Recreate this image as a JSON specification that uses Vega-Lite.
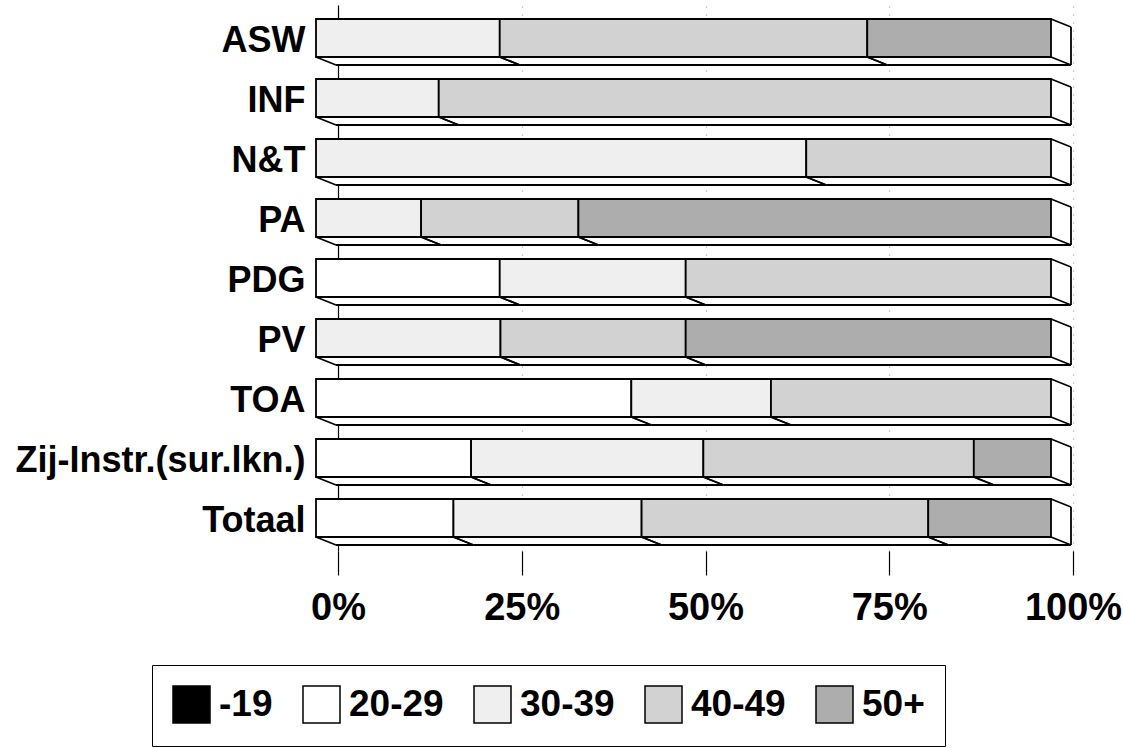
{
  "$schema": "https://vega.github.io/schema/vega-lite/v6.json",
  "width": 735,
  "height": 546,
  "autosize": {"type": "none"},
  "padding": {"left": 316, "top": 5, "right": 72, "bottom": 197},
  "background": "white",
  "config": {"view": {"stroke": null}, "font": "Liberation Sans"},
  "data": {
    "values": [
      {"dept": "ASW", "age": "30-39", "value": 25.0},
      {"dept": "ASW", "age": "40-49", "value": 50.0},
      {"dept": "ASW", "age": "50+", "value": 25.0},
      {"dept": "INF", "age": "30-39", "value": 16.7},
      {"dept": "INF", "age": "40-49", "value": 83.3},
      {"dept": "N&T", "age": "30-39", "value": 66.7},
      {"dept": "N&T", "age": "40-49", "value": 33.3},
      {"dept": "PA", "age": "30-39", "value": 14.3},
      {"dept": "PA", "age": "40-49", "value": 21.4},
      {"dept": "PA", "age": "50+", "value": 64.3},
      {"dept": "PDG", "age": "20-29", "value": 25.0},
      {"dept": "PDG", "age": "30-39", "value": 25.3},
      {"dept": "PDG", "age": "40-49", "value": 49.7},
      {"dept": "PV", "age": "30-39", "value": 25.1},
      {"dept": "PV", "age": "40-49", "value": 25.2},
      {"dept": "PV", "age": "50+", "value": 49.7},
      {"dept": "TOA", "age": "20-29", "value": 42.9},
      {"dept": "TOA", "age": "30-39", "value": 19.0},
      {"dept": "TOA", "age": "40-49", "value": 38.1},
      {"dept": "Zij-Instr.(sur.lkn.)", "age": "20-29", "value": 21.1},
      {"dept": "Zij-Instr.(sur.lkn.)", "age": "30-39", "value": 31.6},
      {"dept": "Zij-Instr.(sur.lkn.)", "age": "40-49", "value": 36.8},
      {"dept": "Zij-Instr.(sur.lkn.)", "age": "50+", "value": 10.5},
      {"dept": "Totaal", "age": "20-29", "value": 18.7},
      {"dept": "Totaal", "age": "30-39", "value": 25.6},
      {"dept": "Totaal", "age": "40-49", "value": 39.0},
      {"dept": "Totaal", "age": "50+", "value": 16.7}
    ]
  },
  "transform": [
    {"stack": "value", "groupby": ["dept"], "sort": [{"field": "age", "order": "ascending"}], "as": ["x0", "x1"], "offset": "normalize"}
  ],
  "encoding": {
    "y": {
      "field": "dept", "type": "nominal",
      "sort": ["ASW", "INF", "N&T", "PA", "PDG", "PV", "TOA", "Zij-Instr.(sur.lkn.)", "Totaal"],
      "scale": {"paddingInner": 0.36667, "paddingOuter": 0.23333},
      "axis": {
        "title": null, "domain": false, "ticks": false,
        "labelFont": "Liberation Sans", "labelFontWeight": "bold", "labelFontSize": 36,
        "labelColor": "black", "labelPadding": 11, "labelOffset": 3, "labelLimit": 400
      }
    }
  },
  "layer": [
    {
      "mark": {"type": "bar", "fill": "white", "strokeWidth": 0, "xOffset": 20, "x2Offset": 20, "yOffset": 8, "y2Offset": 8},
      "encoding": {
        "x": {
          "field": "x0", "type": "quantitative", "stack": null,
          "scale": {"domain": [0, 1], "nice": false, "zero": false},
          "axis": {
            "title": null, "values": [0, 0.25, 0.5, 0.75, 1], "format": ".0%",
            "domain": false, "tickOffset": 22, "tickSize": 24, "tickColor": "black", "tickWidth": 1.2,
            "grid": true,
            "gridColor": {"condition": {"test": "datum.value === 0", "value": "black"}, "value": "#999999"},
            "gridDash": {"condition": {"test": "datum.value === 0", "value": []}, "value": [1, 7]},
            "gridWidth": 1.2,
            "labelFont": "Liberation Sans", "labelFontWeight": "bold", "labelFontSize": 38,
            "labelColor": "black", "labelPadding": 14, "labelFlush": false
          }
        },
        "x2": {"field": "x1"}
      }
    },
    {
      "mark": {"type": "rule", "color": "black", "strokeWidth": 1.8, "xOffset": 20, "x2Offset": 20, "yOffset": 8, "y2Offset": 8},
      "encoding": {
        "x": {"field": "x0", "type": "quantitative", "stack": null},
        "x2": {"field": "x1"},
        "y": {"field": "dept", "type": "nominal", "sort": ["ASW", "INF", "N&T", "PA", "PDG", "PV", "TOA", "Zij-Instr.(sur.lkn.)", "Totaal"], "bandPosition": 1}
      }
    },
    {
      "transform": [{"filter": "datum.x1 > 0.999"}],
      "mark": {"type": "rule", "color": "black", "strokeWidth": 1.8, "xOffset": 20, "yOffset": 8, "y2Offset": 8},
      "encoding": {
        "x": {"field": "x1", "type": "quantitative", "stack": null},
        "y": {"field": "dept", "type": "nominal", "sort": ["ASW", "INF", "N&T", "PA", "PDG", "PV", "TOA", "Zij-Instr.(sur.lkn.)", "Totaal"], "bandPosition": 0},
        "y2": {"field": "dept", "bandPosition": 1}
      }
    },
    {
      "mark": {"type": "rule", "color": "black", "strokeWidth": 1.8, "x2Offset": 20, "y2Offset": 8},
      "encoding": {
        "x": {"field": "x0", "type": "quantitative", "stack": null},
        "x2": {"field": "x0"},
        "y": {"field": "dept", "type": "nominal", "sort": ["ASW", "INF", "N&T", "PA", "PDG", "PV", "TOA", "Zij-Instr.(sur.lkn.)", "Totaal"], "bandPosition": 1},
        "y2": {"field": "dept", "bandPosition": 1}
      }
    },
    {
      "mark": {"type": "rule", "color": "black", "strokeWidth": 1.8, "x2Offset": 20, "y2Offset": 8},
      "encoding": {
        "x": {"field": "x1", "type": "quantitative", "stack": null},
        "x2": {"field": "x1"},
        "y": {"field": "dept", "type": "nominal", "sort": ["ASW", "INF", "N&T", "PA", "PDG", "PV", "TOA", "Zij-Instr.(sur.lkn.)", "Totaal"], "bandPosition": 1},
        "y2": {"field": "dept", "bandPosition": 1}
      }
    },
    {
      "transform": [{"filter": "datum.x1 > 0.999"}],
      "mark": {"type": "rule", "color": "black", "strokeWidth": 1.8, "x2Offset": 20, "y2Offset": 8},
      "encoding": {
        "x": {"field": "x1", "type": "quantitative", "stack": null},
        "x2": {"field": "x1"},
        "y": {"field": "dept", "type": "nominal", "sort": ["ASW", "INF", "N&T", "PA", "PDG", "PV", "TOA", "Zij-Instr.(sur.lkn.)", "Totaal"], "bandPosition": 0},
        "y2": {"field": "dept", "bandPosition": 0}
      }
    },
    {
      "mark": {"type": "bar", "stroke": "black", "strokeWidth": 1.8},
      "encoding": {
        "x": {"field": "x0", "type": "quantitative", "stack": null},
        "x2": {"field": "x1"},
        "color": {
          "field": "age", "type": "nominal",
          "scale": {"domain": ["-19", "20-29", "30-39", "40-49", "50+"], "range": ["#000000", "#ffffff", "#efefef", "#d2d2d2", "#adadad"]},
          "legend": {
            "orient": "none", "legendX": -164, "legendY": 660, "direction": "horizontal", "title": null,
            "symbolType": "square", "symbolSize": 1369, "symbolStrokeColor": "black", "symbolStrokeWidth": 1.5,
            "labelFont": "Liberation Sans", "labelFontWeight": "bold", "labelFontSize": 37, "labelColor": "black",
            "labelOffset": 8, "columnPadding": 27, "strokeColor": "black", "fillColor": "white", "padding": 20
          }
        }
      }
    }
  ]
}
